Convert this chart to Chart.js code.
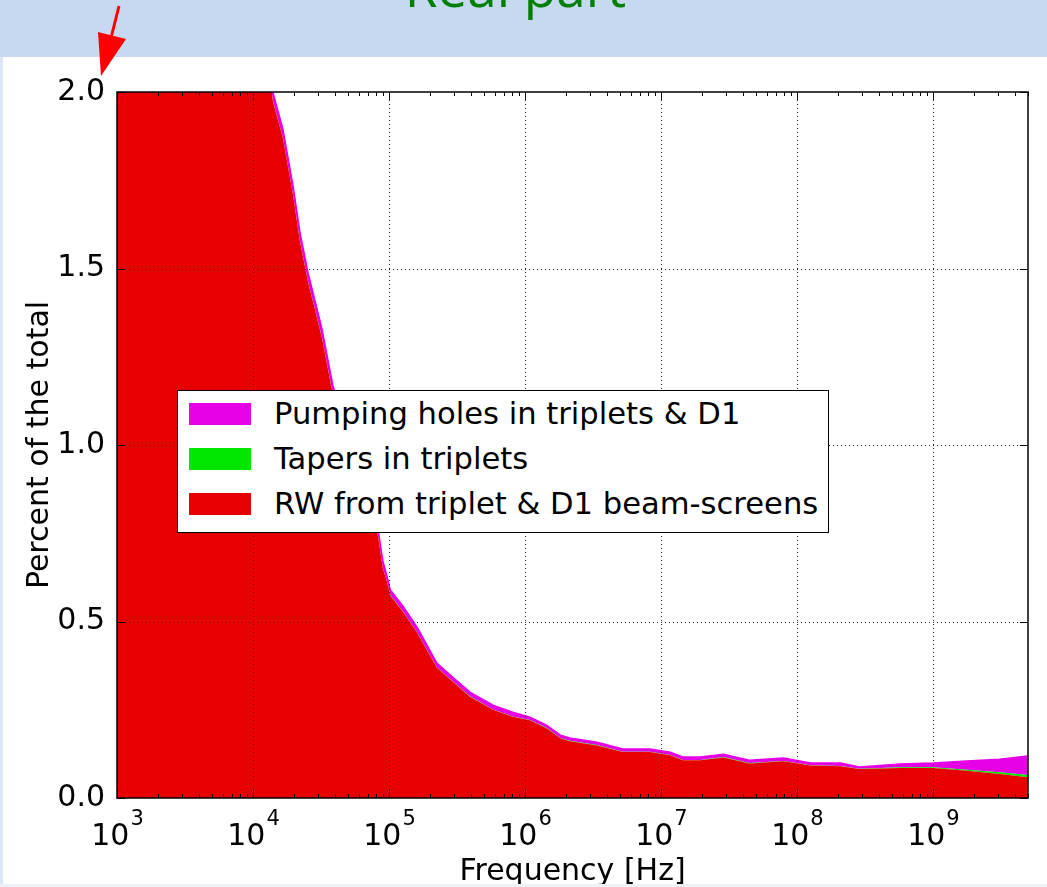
<!DOCTYPE html>
<html>
<head>
<meta charset="utf-8">
<script src="https://cdn.jsdelivr.net/npm/chart.js@4.4.1/dist/chart.umd.min.js"></script>
<style>
    html, body { margin: 0; padding: 0; }
    body { width: 1047px; height: 887px; background: #c6d9f0; position: relative; overflow: hidden; font-family: 'DejaVu Sans', sans-serif; }
    #franjaIzq { position: absolute; left: 0; top: 57px; width: 3px; height: 830px; background: #dbe5f3; }
    #panel { position: absolute; left: 3px; top: 57px; width: 1044px; height: 827px; background: #fff; }
    #franjaInf { position: absolute; left: 0; top: 884px; width: 1047px; height: 3px; background: #edf1f8; }
    #titulo { position: absolute; left: 0; width: 1031px; top: -38px; text-align: center; font-family: 'Open Sans', sans-serif; font-size: 53px; line-height: 50px; color: #008000; white-space: nowrap; }
    #grafico { position: absolute; left: 3px; top: 57px; }
    #flecha { position: absolute; left: 0; top: 0; }
    #leyenda { position: absolute; left: 177px; top: 390px; width: 650px; height: 141px; border: 1px solid #000; background: #fff; }
    .fila { height: 45px; line-height: 45px; font-size: 30.6px; color: #000; white-space: nowrap; }
    .muestra { display: inline-block; width: 62px; height: 22px; margin-left: 11px; margin-right: 23px; vertical-align: -1px; }
</style>
</head>
<body>
<div id="franjaIzq"></div>
<div id="panel"></div>
<div id="franjaInf"></div>
<div id="titulo">Real part</div>
<canvas id="grafico" width="1044" height="827"></canvas>
<div id="leyenda"></div>
<svg id="flecha" width="140" height="90">
    <line x1="119" y1="6" x2="111" y2="38" stroke="#ff0000" stroke-width="3"/>
    <polygon points="98,32 126,39 101,76" fill="#ff0000"/>
</svg>
<script>
// frecuencias en Hz
const frecuencias = [1e3, 3.16e3, 1e4, 1.40e4, 1.66e4, 1.97e4, 2.22e4, 2.54e4, 3.21e4, 3.87e4,
    5.0e4, 6.3e4, 8.3e4, 9.0e4, 9.8e4, 1.02e5, 1.26e5, 1.61e5, 2.25e5, 2.95e5,
    3.94e5, 5.82e5, 8.13e5, 1.09e6, 1.45e6, 1.82e6, 2.14e6, 3.39e6, 5.25e6, 8.32e6,
    1.17e7, 1.45e7, 1.95e7, 2.88e7, 4.47e7, 7.94e7, 1.26e8, 2.09e8, 2.88e8, 5.75e8,
    1e9, 1.78e9, 3.09e9, 5e9];

// porcentaje del total, capa por capa (se apilan)
const rwPantallas = [7.949, 4.949, 2.449, 1.974, 1.869, 1.708, 1.574, 1.462, 1.304, 1.142,
    1.009, 0.889, 0.743, 0.652, 0.604, 0.574, 0.529, 0.468, 0.369, 0.329,
    0.287, 0.250, 0.230, 0.220, 0.197, 0.169, 0.161, 0.149, 0.130, 0.130,
    0.121, 0.107, 0.107, 0.115, 0.098, 0.104, 0.092, 0.090, 0.082, 0.085,
    0.085, 0.077, 0.068, 0.059];

const tapersTripletes = [0.001, 0.001, 0.001, 0.001, 0.001, 0.001, 0.001, 0.001, 0.001, 0.001,
    0.001, 0.001, 0.001, 0.001, 0.001, 0.001, 0.001, 0.001, 0.001, 0.001,
    0.001, 0.001, 0.001, 0.001, 0.001, 0.001, 0.001, 0.001, 0.001, 0.001,
    0.001, 0.001, 0.001, 0.001, 0.001, 0.001, 0.001, 0.001, 0.001, 0.002,
    0.002, 0.003, 0.005, 0.006];

const agujerosBombeo = [0.05, 0.05, 0.05, 0.025, 0.025, 0.025, 0.025, 0.025, 0.025, 0.025,
    0.02, 0.02, 0.02, 0.02, 0.015, 0.015, 0.015, 0.015, 0.012, 0.012,
    0.012, 0.012, 0.012, 0.008, 0.008, 0.008, 0.008, 0.008, 0.008, 0.008,
    0.008, 0.008, 0.008, 0.008, 0.008, 0.008, 0.006, 0.008, 0.005, 0.009,
    0.012, 0.025, 0.037, 0.054];

const xTickExponents = [3, 4, 5, 6, 7, 8, 9];
const yTicks = [0, 0.5, 1.0, 1.5, 2.0];

const fuente = 'DejaVu Sans';

function puntos(valores) {
    return frecuencias.map((f, i) => ({ x: f, y: valores[i] }));
}

// grilla punteada, marco y marcas hacia adentro, estilo matplotlib clasico
const marcoYGrilla = {
    id: 'marcoYGrilla',
    afterDatasetsDraw(chart) {
        const { ctx, chartArea: a, scales: { x, y } } = chart;
        ctx.save();
        ctx.strokeStyle = '#222';
        ctx.lineWidth = 1;
        ctx.setLineDash([1, 3]);
        xTickExponents.slice(1).forEach(e => {
            const px = Math.round(x.getPixelForValue(Math.pow(10, e))) + 0.5;
            ctx.beginPath(); ctx.moveTo(px, a.top); ctx.lineTo(px, a.bottom); ctx.stroke();
        });
        yTicks.slice(1, -1).forEach(v => {
            const py = Math.round(y.getPixelForValue(v)) + 0.5;
            ctx.beginPath(); ctx.moveTo(a.left, py); ctx.lineTo(a.right, py); ctx.stroke();
        });
        ctx.setLineDash([]);
        ctx.strokeStyle = '#000';
        ctx.beginPath();
        xTickExponents.forEach(e => {
            for (let k = 1; k <= 9; k++) {
                const valor = k * Math.pow(10, e);
                if (valor > x.max) break;
                const px = Math.round(x.getPixelForValue(valor)) + 0.5;
                const largo = k === 1 ? 8 : 4;
                ctx.moveTo(px, a.bottom); ctx.lineTo(px, a.bottom - largo);
                ctx.moveTo(px, a.top); ctx.lineTo(px, a.top + largo);
            }
        });
        yTicks.forEach(v => {
            const py = Math.round(y.getPixelForValue(v)) + 0.5;
            ctx.moveTo(a.left, py); ctx.lineTo(a.left + 8, py);
            ctx.moveTo(a.right, py); ctx.lineTo(a.right - 8, py);
        });
        ctx.stroke();
        ctx.lineWidth = 1.5;
        ctx.strokeRect(a.left, a.top, a.right - a.left, a.bottom - a.top);

        // etiquetas 10^n con exponente elevado
        ctx.fillStyle = '#000';
        ctx.textBaseline = 'alphabetic';
        ctx.textAlign = 'left';
        const base = a.bottom + 47;
        xTickExponents.forEach(e => {
            const px = x.getPixelForValue(Math.pow(10, e));
            ctx.font = '30px "' + fuente + '"';
            const anchoBase = ctx.measureText('10').width;
            ctx.font = '21px "' + fuente + '"';
            const anchoExp = ctx.measureText(String(e)).width;
            const inicio = px - (anchoBase + anchoExp) / 2;
            ctx.font = '30px "' + fuente + '"';
            ctx.fillText('10', inicio, base);
            ctx.font = '21px "' + fuente + '"';
            ctx.fillText(String(e), inicio + anchoBase + 1, base - 20);
        });
        ctx.restore();
    }
};

const grafico = new Chart(document.getElementById('grafico'), {
    type: 'line',
    data: {
        datasets: [
            { label: 'RW from triplet & D1 beam-screens', data: puntos(rwPantallas), backgroundColor: '#e60000', borderColor: 'transparent', borderWidth: 0, fill: 'origin' },
            { label: 'Tapers in triplets', data: puntos(tapersTripletes), backgroundColor: '#00e600', borderColor: 'transparent', borderWidth: 0, fill: '-1' },
            { label: 'Pumping holes in triplets & D1', data: puntos(agujerosBombeo), backgroundColor: '#e600e6', borderColor: '#e600e6', borderWidth: 1.5, fill: '-1' }
        ]
    },
    options: {
        responsive: false,
        animation: false,
        layout: { padding: { top: 35, right: 19, left: 0, bottom: 0 } },
        elements: { line: { tension: 0 }, point: { radius: 0 } },
        plugins: { legend: { display: false }, tooltip: { enabled: false } },
        scales: {
            x: {
                type: 'logarithmic',
                min: 1e3,
                max: 5e9,
                grid: { display: false, drawTicks: false },
                border: { display: false },
                afterBuildTicks: s => { s.ticks = xTickExponents.map(e => ({ value: Math.pow(10, e) })); },
                afterFit: s => { s.height = 86; },
                ticks: { display: false },
                title: { display: true, text: 'Frequency [Hz]', color: '#000', font: { family: fuente, size: 30, lineHeight: 0.8 }, padding: 0 }
            },
            y: {
                stacked: true,
                min: 0,
                max: 2,
                grid: { display: false, drawTicks: false },
                border: { display: false },
                afterFit: s => { s.width = 114; },
                ticks: {
                    stepSize: 0.5, padding: 12, color: '#000',
                    font: { family: fuente, size: 30 },
                    callback: v => v.toFixed(1)
                },
                title: { display: true, text: 'Percent of the total', color: '#000', font: { family: fuente, size: 30, lineHeight: 1 }, padding: { top: 22, bottom: 0 } }
            }
        }
    },
    plugins: [marcoYGrilla]
});

// leyenda dentro del area, en el orden inverso de la pila
const leyenda = document.getElementById('leyenda');
grafico.data.datasets.slice().reverse().forEach(ds => {
    const fila = document.createElement('div');
    fila.className = 'fila';
    const muestra = document.createElement('span');
    muestra.className = 'muestra';
    muestra.style.background = ds.backgroundColor;
    fila.appendChild(muestra);
    fila.appendChild(document.createTextNode(ds.label));
    leyenda.appendChild(fila);
});
</script>
</body>
</html>
